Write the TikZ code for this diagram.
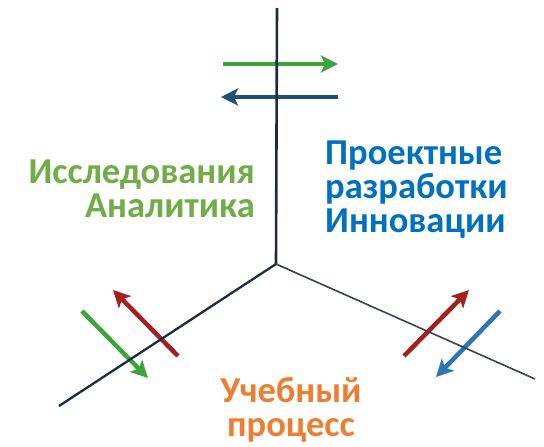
\documentclass[tikz,border=0pt]{standalone}
\usepackage{fontspec}
\setmainfont{Carlito}
\usetikzlibrary{arrows.meta}
\definecolor{axisnavy}{HTML}{1B2B44}
\definecolor{axisgray}{HTML}{3A4350}
\definecolor{flowgreen}{HTML}{3BA53B}
\definecolor{flownavy}{HTML}{1F4E79}
\definecolor{flowred}{HTML}{A61E1E}
\definecolor{flowblue}{HTML}{2E75B6}
\definecolor{txtgreen}{HTML}{70AD47}
\definecolor{txtblue}{HTML}{0070C0}
\definecolor{txtorange}{HTML}{ED7D31}
\begin{document}
\begin{tikzpicture}[x=1pt, y=-1pt,
    axis/.style={draw=axisnavy, line width=2.6pt},
    flow/.style={line width=4.5pt, -{Stealth[length=17pt, width=17pt, inset=4pt]}},
    label/.style={font=\bfseries\fontsize{36.5}{34}\selectfont, inner sep=0pt}]
    \useasboundingbox (0,0) rectangle (544,447);

    % Arrows crossing the axes
    \coordinate (g1) at (223,64);  \coordinate (g2) at (338,64);
    \coordinate (n1) at (338,97);  \coordinate (n2) at (221,97);
    \coordinate (lg1) at (82,311); \coordinate (lg2) at (148,378);
    \coordinate (lr1) at (178,356); \coordinate (lr2) at (113,290);
    \coordinate (rr1) at (404,356); \coordinate (rr2) at (469,290);
    \coordinate (rb1) at (500,311); \coordinate (rb2) at (436,377);
    \draw[flow, flowgreen] (g1) -- (g2);
    \draw[flow, flownavy] (n1) -- (n2);
    \draw[flow, flowgreen] (lg1) -- (lg2);
    \draw[flow, flowred] (lr1) -- (lr2);
    \draw[flow, flowred] (rr1) -- (rr2);
    \draw[flow, flowblue] (rb1) -- (rb2);

    % Three axes from the origin
    \coordinate (O) at (276,264);
    \coordinate (top) at (277,8);
    \coordinate (left) at (59,406);
    \coordinate (right) at (535,379);
    \draw[axis] (O) -- (top);
    \draw[axis, line width=2.3pt] (O) -- (left);
    \draw[axis, draw=axisgray, line width=1.6pt] (O) -- (right);

    % Labels
    \node[label, text=txtgreen, align=right, anchor=base east] (research) at (255,217)
        {Исследования\\Аналитика};
    \node[label, text=txtblue, align=left, anchor=base west] (projects) at (325,232)
        {Проектные\\разработки\\Инновации};
    \node[label, text=txtorange, align=center, anchor=base] (study) at (291,436)
        {Учебный\\процесс};
\end{tikzpicture}
\end{document}
